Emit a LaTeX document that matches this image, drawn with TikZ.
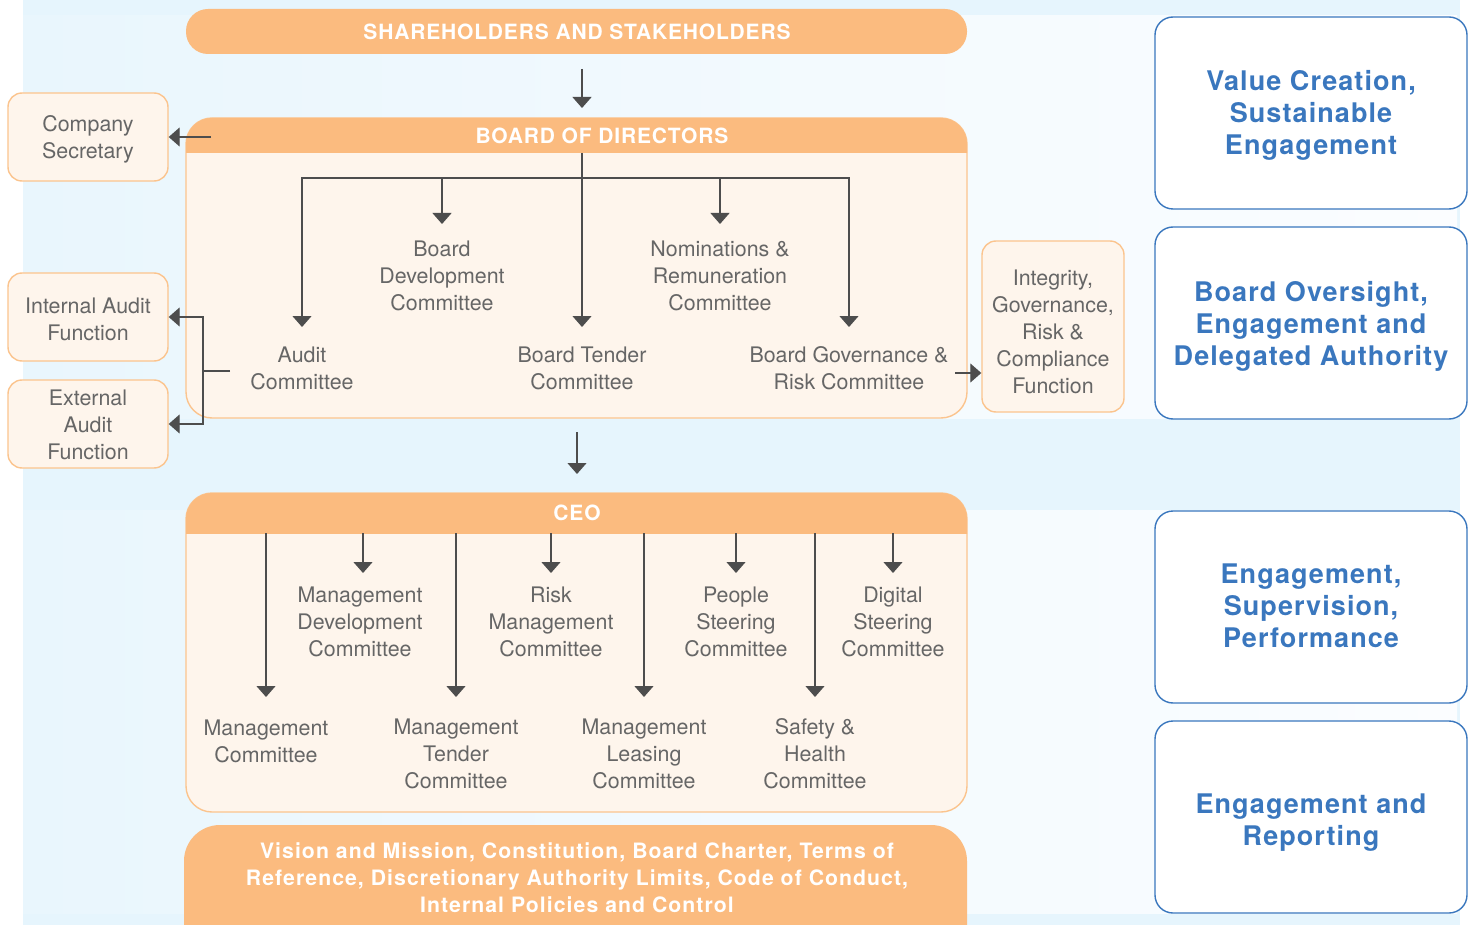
\documentclass[tikz,border=0pt]{standalone}
\usepackage{fontspec}
\setmainfont{TeX Gyre Heros}
\newfontfamily\condfont[LetterSpace=5]{TeX Gyre Heros}
\newfontfamily\hdrfont[LetterSpace=4]{TeX Gyre Heros}
\newfontfamily\blufont[LetterSpace=4]{TeX Gyre Heros}
\usetikzlibrary{arrows.meta}
\definecolor{bgblue}{HTML}{E6F5FD}
\definecolor{paleL}{HTML}{E9F6FD}
\definecolor{paleR}{HTML}{FBFDFF}
\definecolor{org}{HTML}{FBBB7F}
\definecolor{orgL}{HTML}{FEF5EC}
\definecolor{orgB}{HTML}{FBC48E}
\definecolor{txtg}{HTML}{666666}
\definecolor{arrc}{HTML}{4D4D4D}
\definecolor{blu}{HTML}{3A77BE}
\tikzset{
 arr/.style={draw=arrc, line width=0.6pt, -{Triangle[width=9.5pt,length=5.5pt]}},
 ln/.style={draw=arrc, line width=0.6pt},
 txt/.style={text=txtg, align=center, font=\fontsize{10.7}{13.5}\selectfont, inner sep=0pt},
 sidebox/.style={draw=orgB, fill=orgL, line width=0.7pt, rounded corners=7pt, minimum width=80pt, minimum height=44pt},
 bluebox/.style={draw=blu, fill=white, line width=0.7pt, rounded corners=9pt, minimum width=156pt, minimum height=96pt},
 blutxt/.style={text=blu, align=center, inner sep=0pt, font=\blufont\bfseries\fontsize{13.5}{16}\selectfont},
 hdr/.style={text=white, font=\hdrfont\bfseries\fontsize{10.5}{12}\selectfont, inner sep=0pt},
 bigbox/.style={draw=orgB, fill=orgL, line width=0.7pt, rounded corners=13pt},
}
\begin{document}
\begin{tikzpicture}[x=0.5pt,y=-0.5pt]
\clip (0,0) rectangle (1472,925);
\useasboundingbox (0,0) rectangle (1472,925);
% background
\fill[white] (0,0) rectangle (1472,925);
\fill[bgblue] (23,0) rectangle (1460,925);
\shade[left color=paleL, right color=paleR] (23,16) rectangle (1457,418);
\shade[left color=paleL, right color=paleR] (23,510) rectangle (1457,913);

% shareholders
\node[fill=org, rounded corners=11pt, minimum width=390.5pt, minimum height=22.5pt, inner sep=0pt] (sh) at (576.5,31.5) {};
\node[hdr] (shtxt) at (577,31.5) {SHAREHOLDERS AND STAKEHOLDERS};
\coordinate (a1s) at (582,69);
\coordinate (a1e) at (582,108);
\draw[arr] (a1s) -- (a1e);

% board box
\draw[bigbox] (186,118) rectangle (967,418);
\begin{scope}
\clip (180,110) rectangle (975,153);
\fill[org, rounded corners=13pt] (186,118) rectangle (967,200);
\end{scope}
\node[hdr] (bod) at (602,135.5) {BOARD OF DIRECTORS};

% board committees
\node[txt] (bdc) at (442,276) {Board\\Development\\Committee};
\node[txt] (nrc) at (720,276) {Nominations \&\\Remuneration\\Committee};
\node[txt] (aud) at (302,368) {Audit\\Committee};
\node[txt] (btc) at (582,368) {Board Tender\\Committee};
\node[txt] (bgr) at (849,368) {Board Governance \&\\Risk Committee};
\coordinate (bh) at (582,153);
\coordinate (bus) at (582,178);
\coordinate (bdcT) at (442,224);
\coordinate (nrcT) at (720,224);
\coordinate (audT) at (302,327);
\coordinate (btcT) at (582,327);
\coordinate (bgrT) at (849,327);
\draw[arr] (bh) -- (btcT);
\draw[arr] (bus) -| (audT);
\draw[arr] (bus) -| (bgrT);
\draw[arr] (bus -| bdcT) -- (bdcT);
\draw[arr] (bus -| nrcT) -- (nrcT);

% left boxes
\node[sidebox] (cs) at (88,137) {};
\node[txt] (cst) at (88,139.5) {Company\\Secretary};
\node[sidebox] (ia) at (88,317) {};
\node[txt] (iat) at (88,319) {Internal Audit\\Function};
\node[sidebox] (ea) at (88,424) {};
\node[txt] (eat) at (88,424.5) {External\\Audit\\Function};
\coordinate (csS) at (211,137);
\draw[arr] (csS) -- (cs.east);
\coordinate (audL) at (230,371);
\coordinate (split) at (203,371);
\draw[ln] (audL) -- (split);
\draw[arr] (split) |- (ia.east);
\draw[arr] (split) |- (ea.east);

% integrity
\node[sidebox, minimum width=71pt, minimum height=85.5pt] (igr) at (1053,326.5) {};
\node[txt] (igt) at (1053,331.5) {Integrity,\\Governance,\\Risk \&\\Compliance\\Function};
\coordinate (igS) at (955,373);
\draw[arr] (igS) -- (igS -| igr.west);

% middle arrow
\coordinate (a2s) at (577,432);
\coordinate (a2e) at (577,474);
\draw[arr] (a2s) -- (a2e);

% CEO box
\draw[bigbox] (186,493) rectangle (967,812);
\begin{scope}
\clip (180,485) rectangle (975,533);
\fill[org, rounded corners=13pt] (186,493) rectangle (967,580);
\end{scope}
\node[hdr] (ceo) at (577,512.5) {CEO};
\coordinate (ch) at (577,533);

\node[txt] (mdc) at (360,621.5) {Management\\Development\\Committee};
\node[txt] (rmc) at (551,621.5) {Risk\\Management\\Committee};
\node[txt] (psc) at (736,621.5) {People\\Steering\\Committee};
\node[txt] (dsc) at (893,621.5) {Digital\\Steering\\Committee};
\node[txt] (mc) at (266,741) {Management\\Committee};
\node[txt] (mtc) at (456,753.5) {Management\\Tender\\Committee};
\node[txt] (mlc) at (644,753.5) {Management\\Leasing\\Committee};
\node[txt] (shc) at (815,753.5) {Safety \&\\Health\\Committee};

\coordinate (mdcT) at (363,573);
\coordinate (rmcT) at (551,573);
\coordinate (pscT) at (736,573);
\coordinate (dscT) at (893,573);
\coordinate (mcT) at (266,697);
\coordinate (mtcT) at (456,697);
\coordinate (mlcT) at (644,697);
\coordinate (shcT) at (815,697);
\foreach \t in {mdcT,rmcT,pscT,dscT,mcT,mtcT,mlcT,shcT}{
  \draw[arr] (ch -| \t) -- (\t);
}

% bottom bar
\fill[org, rounded corners=18pt] (184,825) rectangle (967,970);
\node[text=white, align=center, inner sep=0pt, font=\condfont\bfseries\fontsize{10.6}{13.5}\selectfont] (vm) at (577,878) {Vision and Mission, Constitution, Board Charter, Terms of\\Reference, Discretionary Authority Limits, Code of Conduct,\\Internal Policies and Control};

% right blue boxes
\node[bluebox] (b1) at (1311,113) {};
\node[blutxt] (b1t) at (1311,115) {Value Creation,\\Sustainable\\Engagement};
\node[bluebox] (b2) at (1311,323) {};
\node[blutxt] (b2t) at (1311,326) {Board Oversight,\\Engagement and\\Delegated Authority};
\node[bluebox] (b3) at (1311,607) {};
\node[blutxt] (b3t) at (1311,606) {Engagement,\\Supervision,\\Performance};
\node[bluebox] (b4) at (1311,817) {};
\node[blutxt] (b4t) at (1311,823) {Engagement and\\Reporting};
\end{tikzpicture}
\end{document}
